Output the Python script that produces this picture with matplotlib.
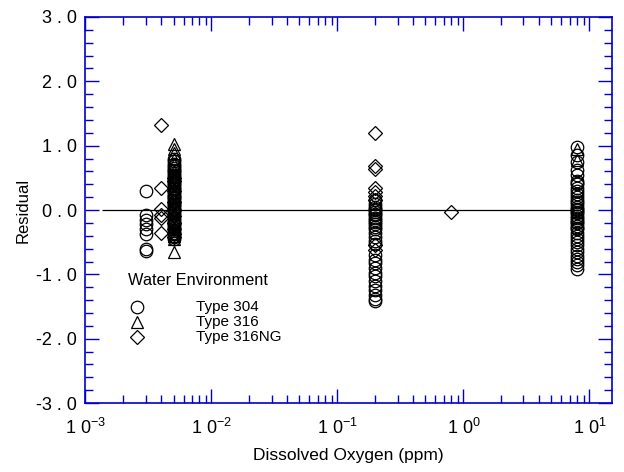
import matplotlib.pyplot as plt
from matplotlib.ticker import FixedLocator, LogLocator, NullFormatter, FixedFormatter

plt.rcParams['font.family'] = ['Liberation Sans', 'DejaVu Sans']
plt.rcParams['mathtext.fontset'] = 'custom'
plt.rcParams['mathtext.rm'] = 'Liberation Sans'
plt.rcParams['mathtext.it'] = 'Liberation Sans'

# Residuals by dissolved oxygen level, one group per steel type
o2_304 = [0.003] * 8 + [0.005] * 44 + [0.2] * 30 + [8.0] * 40
res_304 = [0.30, -0.08, -0.15, -0.22, -0.30, -0.38, -0.60, -0.64,
           0.80, 0.76, 0.72, 0.68, 0.65, 0.62, 0.58, 0.55, 0.52, 0.48, 0.45, 0.42, 0.38,
           0.35, 0.32, 0.28, 0.25, 0.22, 0.18, 0.15, 0.12, 0.08, 0.05, 0.02, -0.02,
           -0.05, -0.08, -0.12, -0.15, -0.18, -0.22, -0.25, -0.28, -0.32, -0.35, -0.38,
           -0.42, -0.45, 0.40, 0.20, 0.00, -0.20, 0.60, 0.10,
           0.15, 0.10, 0.05, 0.02, 0.00, -0.03, -0.06, -0.08, -0.12, -0.15, -0.18, -0.22,
           -0.26, -0.30, -0.35, -0.42, -0.48, -0.52, -0.70, -0.78, -0.82, -0.90, -0.98,
           -1.02, -1.10, -1.18, -1.25, -1.32, -1.38, -1.42,
           0.98, 0.85, 0.75, 0.62, 0.55, 0.45, 0.42, 0.40, 0.35, 0.30, 0.25, 0.20, 0.15,
           0.12, 0.10, 0.05, 0.02, 0.00, -0.03, -0.05, -0.10, -0.12, -0.15, -0.20, -0.25,
           -0.28, -0.30, -0.35, -0.40, -0.45, -0.50, -0.55, -0.60, -0.65, -0.72, -0.76,
           -0.80, -0.85, -0.92, -0.18]

o2_316 = [0.005] * 16 + [8.0] * 2
res_316 = [1.03, 0.95, 0.88, 0.80, 0.72, 0.60, 0.48, 0.35, 0.22, 0.10, -0.05, -0.20,
           -0.30, -0.40, -0.45, -0.65,
           0.95, 0.78]

o2_316ng = [0.004] * 6 + [0.005] * 10 + [0.2] * 9 + [0.8]
res_316ng = [1.32, 0.35, 0.02, -0.07, -0.13, -0.35,
             0.50, 0.45, 0.30, 0.12, 0.00, -0.10, -0.20, -0.30, -0.38, -0.42,
             1.20, 0.68, 0.64, 0.35, 0.28, 0.22, 0.15, -0.55, -0.62,
             -0.03]

blue = '#0000cc'
fig = plt.figure(figsize=(6.24, 4.72), dpi=100)
ax = fig.add_axes([0.137, 0.146, 0.843, 0.818])

mk = dict(linestyle='none', markerfacecolor='none', markeredgecolor='black',
          markeredgewidth=0.9, markersize=9)
ax.plot(o2_304, res_304, marker='o', **mk)
ax.plot(o2_316, res_316, marker='^', **mk)
ax.plot(o2_316ng, res_316ng, marker='D', **dict(mk, markersize=7))

ax.hlines(0, 1.35e-3, 8.5, color='black', linewidth=0.9)

ax.set_xscale('log')
ax.set_xlim(1e-3, 15)
ax.set_ylim(-3, 3)

ax.xaxis.set_major_locator(FixedLocator([1e-3, 1e-2, 1e-1, 1e0, 1e1]))
ax.xaxis.set_major_formatter(FixedFormatter(
    [r'1 0$^{-3}$', r'1 0$^{-2}$', r'1 0$^{-1}$', r'1 0$^{0}$', r'1 0$^{1}$']))
ax.xaxis.set_minor_locator(LogLocator(base=10, subs=range(2, 10)))
ax.xaxis.set_minor_formatter(NullFormatter())

yt = [-3, -2, -1, 0, 1, 2, 3]
ax.yaxis.set_major_locator(FixedLocator(yt))
ax.yaxis.set_major_formatter(FixedFormatter(
    [('-' if v < 0 else '') + f'{abs(v)} . 0' for v in yt]))
ax.yaxis.set_minor_locator(FixedLocator([v / 5 for v in range(-15, 16)]))

for s in ax.spines.values():
    s.set_color(blue)
    s.set_linewidth(1.2)
ax.tick_params(which='both', direction='in', color=blue, top=True, right=True,
               labelsize=13, width=1.0)
ax.tick_params(which='major', length=10, pad=6)
ax.tick_params(which='minor', length=6)
ax.tick_params(axis='x', which='major', pad=11)

ax.set_xlabel('Dissolved Oxygen (ppm)', fontsize=12.5, labelpad=7)
ax.set_ylabel('Residual', fontsize=12)

# legend drawn by hand
ax.text(0.08, 0.318, 'Water Environment', transform=ax.transAxes, fontsize=11.8, va='center')
for i, (m, lab, ms) in enumerate([('o', 'Type 304', 9), ('^', 'Type 316', 9), ('D', 'Type 316NG', 7)]):
    yy = 0.248 - i * 0.039
    ax.plot([0.097], [yy], marker=m, transform=ax.transAxes, **dict(mk, markersize=ms))
    ax.text(0.21, yy, lab, transform=ax.transAxes, fontsize=11, va='center')

fig.savefig('out.png', dpi=100)
